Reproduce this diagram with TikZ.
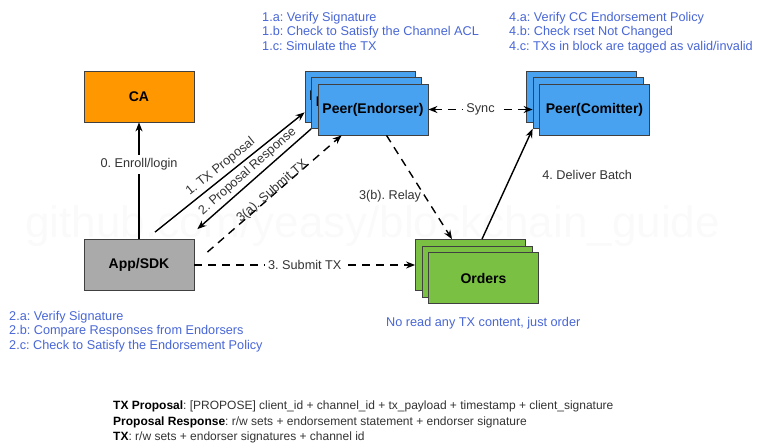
\documentclass[tikz,border=0pt]{standalone}
\usepackage{fontspec}
\setmainfont{Liberation Sans}
\usetikzlibrary{arrows.meta}
\definecolor{caorange}{RGB}{255,151,0}
\definecolor{peerblue}{RGB}{72,162,240}
\definecolor{ordgreen}{RGB}{122,193,67}
\definecolor{appgrey}{RGB}{170,170,170}
\definecolor{notes}{RGB}{72,102,214}
\definecolor{labgrey}{RGB}{51,51,51}
\frenchspacing
\begin{document}
\begin{tikzpicture}[x=1pt, y=-1pt,
  >={Stealth[length=9pt,width=7pt]},
  box/.style={shape=rectangle, draw=black!75, line width=0.8pt, minimum width=110pt, minimum height=51pt, inner sep=0pt, font=\fontsize{14}{16}\selectfont\bfseries},
  flow/.style={line width=1.4pt, draw=black},
  dashflow/.style={line width=1.4pt, draw=black, dash pattern=on 8pt off 6pt},
  lab/.style={font=\fontsize{12.7}{14.5}\selectfont, text=labgrey},
  note/.style={font=\fontsize{12.7}{14.5}\selectfont, text=notes, align=left, inner sep=0pt}]
\useasboundingbox (0,0) rectangle (758,446);
\node[font=\fontsize{44}{50}\selectfont, text=black!2, anchor=base] (mark) at (372.5,238) {github.com/yeasy/blockchain\_guide};
\node[box, fill=caorange] (ca) at (139,96.5) {CA};
\node[box, fill=appgrey] (app) at (139,265) {App/SDK};
\foreach \k/\d in {1/0,2/6.5,3/13} {
  \node[box, fill=peerblue] (end\k) at (360+\d,96.5+\d) {Peer(Endorser)};
  \node[box, fill=peerblue] (com\k) at (581.5+\d,96.5+\d) {Peer(Comitter)};
  \node[box, fill=ordgreen] (ord\k) at (470.5+\d,265+\d) {Orders};
}
\draw [->, flow] (app.north) -- node[lab, fill=white, pos=0.64] {0. Enroll/login} (ca.south);
\draw [->, flow] ([xshift=16pt,yshift=7pt]app.north) -- node[lab, sloped, above, pos=0.48] {1. TX Proposal} ([yshift=10pt]end1.south west);
\draw [->, flow] (end2.south west) -- node[lab, sloped, above] {2. Proposal Response} ([xshift=3pt,yshift=10pt]app.north east);
\draw [->, dashflow] ([xshift=13pt,yshift=-13pt]app.north east) -- node[lab, sloped, anchor=base] {3(a). Submit TX} ([xshift=24pt]end3.south west);
\draw [->, dashflow] (app.east) -- node[lab, fill=white] {3. Submit TX} (ord1.west);
\draw [<->, dashflow] (end3.east) -- node[lab, fill=white] {Sync} (end3.east -| com2.west);
\draw [->, dashflow] ([xshift=13.5pt]end3.south) -- node[lab, pos=0.59, left] {3(b). Relay} ([xshift=-18.5pt]ord1.north);
\draw [->, flow] ([xshift=11.5pt]ord1.north) -- node[lab, pos=0.58, right=27pt] {4. Deliver Batch} (com2.south west);
\node[note, anchor=north west] (n1) at (262,12) {1.a: Verify Signature\\1.b: Check to Satisfy the Channel ACL\\1.c: Simulate the TX};
\node[note, anchor=north west] (n4) at (509,12) {4.a: Verify CC Endorsement Policy\\4.b: Check rset Not Changed\\4.c: TXs in block are tagged as valid/invalid};
\node[note, anchor=north west] (n2) at (9,311) {2.a: Verify Signature\\2.b: Compare Responses from Endorsers\\2.c: Check to Satisfy the Endorsement Policy};
\node[note, anchor=base west] (n5) at (386,326.5) {No read any TX content, just order};
\node[anchor=north west, align=left, inner sep=0pt, font=\fontsize{12}{15.5}\selectfont, text=labgrey] (defs) at (113,401) {\textcolor{black}{\textbf{TX Proposal}}: [PROPOSE] client\_id + channel\_id + tx\_payload + timestamp + client\_signature\\\textcolor{black}{\textbf{Proposal Response}}: r/w sets + endorsement statement + endorser signature\\\textcolor{black}{\textbf{TX}}: r/w sets + endorser signatures + channel id};
\end{tikzpicture}
\end{document}
